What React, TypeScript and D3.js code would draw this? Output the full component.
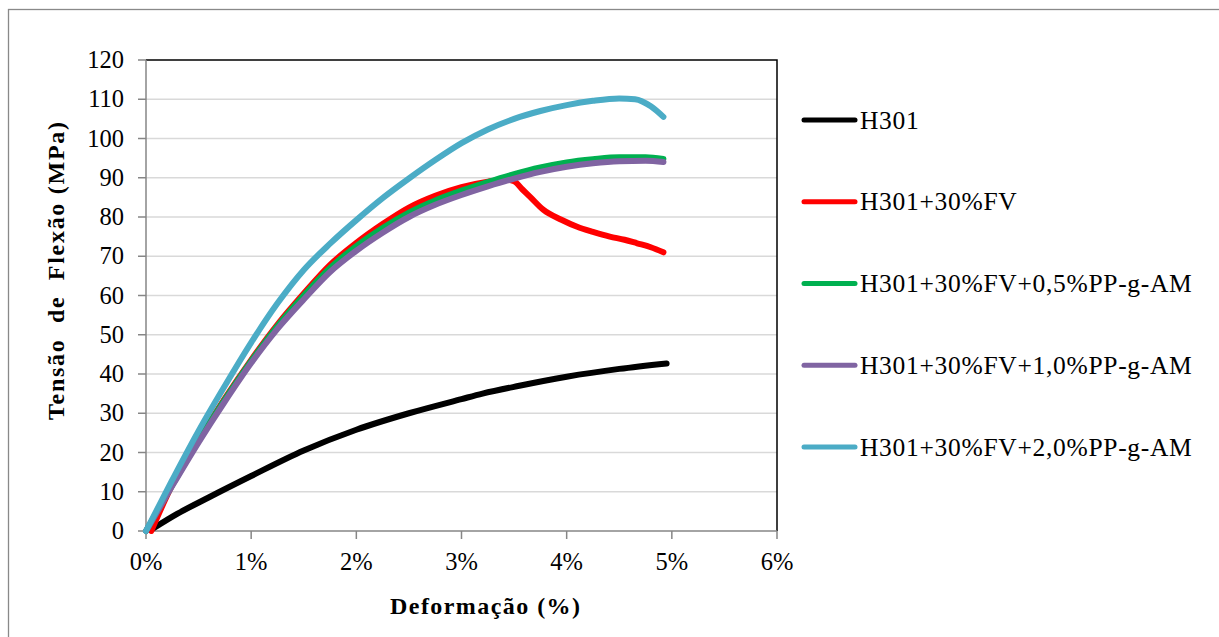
import React from "react"
import * as d3 from "d3"

// deformation (%) and flexural stress (MPa)
const h301X = [0.06, 0.3, 0.6, 1.0, 1.5, 2.0, 2.5, 3.0, 3.2, 3.55, 4.0, 4.5, 4.95]
const h301Y = [0.5, 4.4, 8.6, 14.0, 20.5, 25.8, 30.0, 33.6, 35.0, 37.0, 39.3, 41.3, 42.7]

const fvX = [0.05, 0.25, 0.5, 0.75, 1.0, 1.25, 1.5, 1.75, 2.0, 2.25, 2.5, 2.75, 3.0, 3.25, 3.42, 3.5, 3.58, 3.65, 3.78, 3.95, 4.1, 4.25, 4.41, 4.55, 4.67, 4.8, 4.92]
const fvY = [0, 11.8, 23.2, 33.8, 43.6, 52.6, 60.5, 67.8, 73.4, 78.2, 82.4, 85.4, 87.6, 89.0, 89.5, 89.1, 87.0, 85.2, 81.8, 79.3, 77.5, 76.2, 75.0, 74.2, 73.3, 72.3, 71.0]

const am05X = [0, 0.25, 0.5, 0.75, 1.0, 1.25, 1.5, 1.75, 2.0, 2.25, 2.5, 2.75, 3.0, 3.25, 3.5, 3.75, 4.0, 4.25, 4.5, 4.75, 4.92]
const am05Y = [0, 11.7, 23.0, 33.5, 43.3, 52.2, 60.0, 67.0, 72.6, 77.2, 81.1, 84.2, 86.7, 88.9, 90.9, 92.6, 93.9, 94.7, 95.2, 95.2, 94.8]

const am10X = [0, 0.25, 0.5, 0.75, 1.0, 1.25, 1.5, 1.75, 2.0, 2.25, 2.5, 2.75, 3.0, 3.25, 3.5, 3.75, 4.0, 4.25, 4.5, 4.75, 4.92]
const am10Y = [0, 11.5, 22.6, 33.0, 42.8, 51.5, 59.0, 66.0, 71.4, 76.0, 80.0, 83.1, 85.6, 87.8, 89.8, 91.5, 92.8, 93.7, 94.2, 94.3, 94.0]

const am20X = [0, 0.25, 0.5, 0.75, 1.0, 1.25, 1.5, 1.75, 2.0, 2.25, 2.5, 2.75, 3.0, 3.25, 3.5, 3.75, 4.0, 4.25, 4.5, 4.65, 4.8, 4.92]
const am20Y = [0, 13.0, 25.5, 37.0, 48.0, 58.0, 66.5, 73.2, 79.2, 84.8, 89.8, 94.5, 98.8, 102.3, 105.0, 107.0, 108.5, 109.6, 110.2, 110.0, 108.2, 105.5]

const seriesNames = [
  "H301",
  "H301+30%FV",
  "H301+30%FV+0,5%PP-g-AM",
  "H301+30%FV+1,0%PP-g-AM",
  "H301+30%FV+2,0%PP-g-AM",
]
const seriesColors = ["#000000", "#FF0000", "#00B050", "#8064A2", "#4BACC6"]
const seriesX = [h301X, fvX, am05X, am10X, am20X]
const seriesY = [h301Y, fvY, am05Y, am10Y, am20Y]

const xTicks = [0, 1, 2, 3, 4, 5, 6]
const yTicks = [0, 10, 20, 30, 40, 50, 60, 70, 80, 90, 100, 110, 120]

const font = "Liberation Serif"

const App = () => {
  const x = d3.scaleLinear().domain([0, 6]).range([146, 777])
  const y = d3.scaleLinear().domain([0, 120]).range([531, 60])

  const line = d3
    .line<[number, number]>()
    .x((d) => x(d[0]))
    .y((d) => y(d[1]))
    .curve(d3.curveMonotoneX)

  const legendY = d3.scalePoint<string>().domain(seriesNames).range([120, 447])

  return (
    <svg
      width={1219}
      height={637}
      style={{ position: "absolute", left: 0, top: 0, display: "block", background: "white" }}
    >
      {/* outer chart border */}
      <rect x={8.5} y={9.5} width={1240} height={660} fill="white" stroke="#898989" strokeWidth={1.3} />

      {/* gridlines */}
      {yTicks.slice(1, -1).map((t) => (
        <line key={t} x1={x(0)} x2={x(6)} y1={y(t)} y2={y(t)} stroke="#D9D9D9" strokeWidth={1.5} />
      ))}

      {/* plot frame top & right */}
      <path d={`M${x(0)},${y(120)}H${x(6)}V${y(0)}`} fill="none" stroke="#000" strokeWidth={1.5} />

      {/* y axis */}
      <line x1={x(0)} x2={x(0)} y1={y(0)} y2={y(120)} stroke="#868686" strokeWidth={1.5} />
      {yTicks.map((t) => (
        <g key={t}>
          <line x1={x(0) - 8} x2={x(0)} y1={y(t)} y2={y(t)} stroke="#868686" strokeWidth={1.5} />
          <text x={x(0) - 22} y={y(t) + 8} textAnchor="end" fontFamily={font} fontSize={24.5}>
            {t}
          </text>
        </g>
      ))}

      {/* x axis */}
      <line x1={x(0)} x2={x(6)} y1={y(0)} y2={y(0)} stroke="#868686" strokeWidth={1.5} />
      {xTicks.map((t) => (
        <g key={t}>
          <line x1={x(t)} x2={x(t)} y1={y(0)} y2={y(0) + 8} stroke="#868686" strokeWidth={1.5} />
          <text x={x(t)} y={y(0) + 39} textAnchor="middle" fontFamily={font} fontSize={24.5}>
            {t + "%"}
          </text>
        </g>
      ))}

      {/* axis titles */}
      <text
        x={485}
        y={614}
        textAnchor="middle"
        fontFamily={font}
        fontSize={24}
        fontWeight="bold"
        textLength={190}
        lengthAdjust="spacing"
      >
        Deformação (%)
      </text>
      <text
        transform="translate(64,271) rotate(-90)"
        textAnchor="middle"
        fontFamily={font}
        fontSize={24}
        fontWeight="bold"
        textLength={298}
        lengthAdjust="spacing"
        style={{ whiteSpace: "pre" }}
      >
        {"Tensão  de  Flexão (MPa)"}
      </text>

      {/* curves */}
      {seriesNames.map((name, i) => (
        <path
          key={name}
          d={line(seriesX[i].map((v, j) => [v, seriesY[i][j]] as [number, number])) || ""}
          fill="none"
          stroke={seriesColors[i]}
          strokeWidth={6}
          strokeLinecap="round"
          strokeLinejoin="round"
        />
      ))}

      {/* legend */}
      {seriesNames.map((name, i) => (
        <g key={name} transform={`translate(0,${legendY(name)})`}>
          <line x1={804} x2={855} stroke={seriesColors[i]} strokeWidth={5} strokeLinecap="round" />
          <text x={860} y={8.5} fontFamily={font} fontSize={25.5} letterSpacing={0.7}>
            {name}
          </text>
        </g>
      ))}
    </svg>
  )
}

export default App
